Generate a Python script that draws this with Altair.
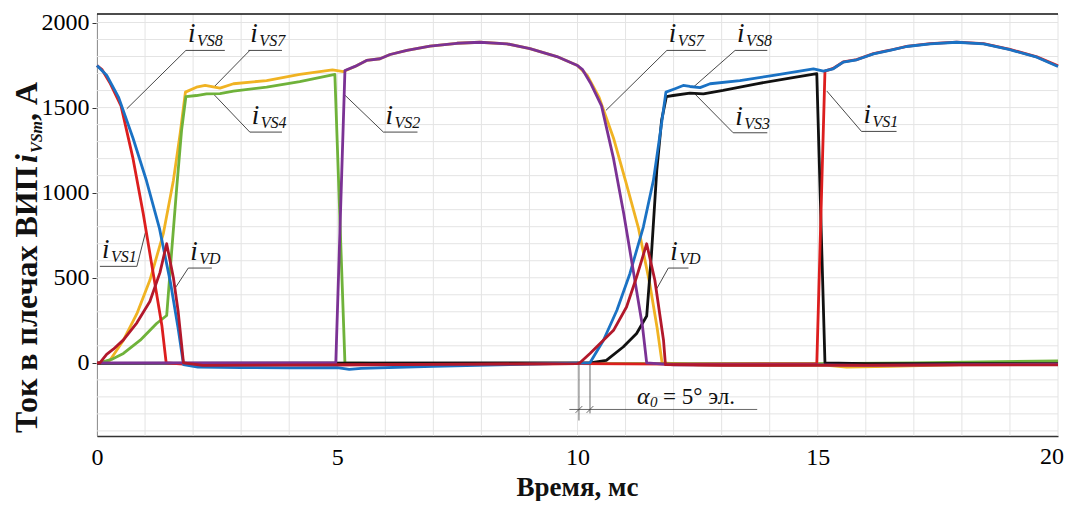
import altair as alt
import pandas as pd

# ---------------- data (time in ms, current in A) ----------------
vs7_t = [0.0, 0.06, 0.27, 0.55, 0.83, 1.10, 1.38, 1.59, 1.73, 1.84, 2.07, 2.25, 2.56, 2.84, 3.53, 4.22, 4.90, 5.13,
         5.37, 5.61, 5.89, 6.10, 6.45, 6.93, 7.49, 7.97, 8.53, 9.01, 9.57, 10.00, 10.20, 10.45, 10.75, 11.00, 11.27,
         11.50, 11.66, 11.76, 12.5, 14.0, 15.2, 15.6, 16.5, 18.0, 20.0]
vs7_i = [0, 0, 15, 133, 289, 485, 759, 1072, 1346, 1591, 1620, 1630, 1614, 1640, 1659, 1695, 1722, 1712,
         1742, 1777, 1787, 1812, 1836, 1861, 1878, 1884, 1875, 1846, 1800, 1747, 1690, 1560, 1320, 1070, 790,
         470, 200, 0, -12, -15, -15, -25, -20, -10, -5]

vs4_t = [0.0, 0.06, 0.3, 0.55, 0.9, 1.24, 1.45, 1.55, 1.66, 1.76, 1.85, 2.07, 2.28, 2.56, 2.84, 3.53, 4.22, 4.95,
         5.16, 6.0, 10.0, 15.0, 17.0, 20.0]
vs4_i = [0, 0, 20, 55, 133, 231, 278, 642, 1033, 1366, 1565, 1571, 1581, 1582, 1597, 1620, 1653, 1695,
         0, -5, -5, -5, 0, 12]

vs3_t = [0.0, 10.26, 10.6, 10.95, 11.23, 11.44, 11.54, 11.65, 11.75, 11.85, 11.99, 12.34, 12.62, 13.03, 13.73,
         14.42, 14.98, 15.15, 16.0, 20.0]
vs3_i = [-3, 0, 15, 93, 172, 275, 642, 1131, 1425, 1565, 1571, 1585, 1581, 1601, 1640,
         1673, 1699, 0, -5, -5]

vs1_t = [0.0, 0.1, 0.27, 0.5, 0.75, 0.96, 1.17, 1.35, 1.44, 1.8, 3.0, 5.0, 7.0, 10.0, 12.0, 14.98, 15.15, 15.32,
         15.53, 15.81, 16.16, 16.5, 16.85, 17.34, 17.89, 18.45, 19.0, 19.56, 20.0]
vs1_i = [1747, 1725, 1645, 1510, 1200, 880, 525, 220, 0, -8, -12, -12, -10, -5, -8, -5, 1714, 1730,
         1768, 1782, 1817, 1837, 1860, 1876, 1885, 1876, 1842, 1798, 1745]

vs8_t = [0.0, 0.2, 0.45, 0.75, 1.03, 1.3, 1.53, 1.69, 1.80, 2.1, 3.0, 4.0, 5.0, 5.25, 5.5, 7.0, 9.0, 10.0, 10.26,
         10.54, 10.82, 11.09, 11.37, 11.58, 11.72, 11.84, 12.03, 12.2, 12.34, 12.55, 12.76, 13.38, 14.08, 14.91,
         15.12, 15.32, 15.53, 15.81, 16.16, 16.5, 16.85, 17.34, 17.89, 18.45, 19.0, 19.56, 20.0]
vs8_i = [1747, 1690, 1560, 1320, 1070, 790, 470, 200, -10, -25, -28, -30, -28, -38, -32, -20, -8, -2, 0,
         133, 309, 524, 798, 1072, 1346, 1591, 1611, 1630, 1624, 1617, 1640, 1659, 1689, 1728,
         1714, 1728, 1767, 1781, 1816, 1836, 1859, 1875, 1884, 1875, 1840, 1796, 1742]

vs2_t = [0.0, 4.97, 5.16, 5.37, 5.61, 5.89, 6.10, 6.45, 6.93, 7.49, 7.97, 8.53, 9.01, 9.57, 10.0, 10.1, 10.27,
         10.5, 10.75, 10.96, 11.17, 11.35, 11.44, 12.0, 15.0, 16.0, 18.0, 20.0]
vs2_i = [0, 0, 1718, 1742, 1777, 1787, 1812, 1836, 1861, 1878, 1884, 1875, 1846, 1800, 1747, 1725, 1645,
         1510, 1200, 880, 525, 220, 0, -12, -12, -15, -10, -8]

vd_t = [0.0, 0.06, 0.2, 0.34, 0.55, 0.83, 1.10, 1.31, 1.45, 1.59, 1.69, 1.80, 2.2, 5.0, 10.0, 10.05, 10.26, 10.47,
        10.75, 11.02, 11.23, 11.44, 11.61, 11.79, 11.83, 13.0, 20.0]
vd_i = [0, 0, 50, 80, 135, 235, 360, 530, 700, 500, 300, 0, -15, -12, -5, 0, 55, 113,
        191, 328, 504, 700, 485, 133, -10, -15, -12]

# drawing order (bottom -> top)
series_names = ["VS7", "VS4", "VS3", "VS1", "VS8", "VS2", "VD"]
series_t = [vs7_t, vs4_t, vs3_t, vs1_t, vs8_t, vs2_t, vd_t]
series_i = [vs7_i, vs4_i, vs3_i, vs1_i, vs8_i, vs2_i, vd_i]
series_colors = ["#f0b323", "#6fb23a", "#111111", "#dc1e1e", "#1a72c4", "#7b3294", "#b2182b"]

# annotation labels: underline from (lab_t0, lab_i) to (lab_t1, lab_i); leader from (lead_t0, lead_i0) to (lead_t1, lead_i1)
lab_sub = ["VS8", "VS7", "VS4", "VS2", "VS7", "VS8", "VS3", "VS1", "VS1", "VD", "VD"]
lab_t0 = [1.85, 3.15, 3.18, 5.96, 11.86, 13.28, 13.24, 15.91, 0.06, 1.90, 11.89]
lab_t1 = [2.66, 3.85, 3.85, 6.67, 12.67, 13.95, 13.95, 16.64, 0.83, 2.39, 12.31]
lab_i = [1836, 1836, 1356, 1356, 1836, 1836, 1352, 1360, 567, 557, 557]
lead_t0 = [1.85, 3.18, 3.18, 5.96, 11.86, 13.28, 13.24, 15.91, 0.83, 1.90, 11.89]
lead_i0 = [1836, 1836, 1356, 1356, 1836, 1836, 1352, 1360, 567, 557, 557]
lead_t1 = [0.62, 2.42, 2.42, 5.13, 10.59, 12.41, 12.44, 15.19, 1.02, 1.62, 11.65]
lead_i1 = [1493, 1617, 1581, 1581, 1483, 1620, 1581, 1597, 779, 436, 436]

# alpha0 dimension
dim_t = [10.03, 10.26]
dim_i_bottom = [-339, -297]
dim_line_t = [9.83, 13.74]
dim_line_i = -274
alpha_t, alpha_i = 11.24, -243

x_ticks = [0, 5, 10, 15]
x_last_tick = 20
y_ticks = [0, 500, 1000, 1500, 2000]
grid_t = list(range(0, 21))
grid_i = list(range(-400, 2001, 100))

W, H = 961, 422
FONT = "Liberation Serif, Times New Roman, serif"
xs = alt.Scale(domain=[0, 20], nice=False, zero=False)
ys = alt.Scale(domain=[-430, 2050], nice=False, zero=False)
X_AX = alt.Axis(values=x_ticks, title=None, grid=False, tickSize=0, format="d",
                labelFont=FONT, labelFontSize=24, labelColor="#000",
                labelPadding=9, domainColor="#333", domainWidth=1.5, labelFlush=False)
Y_AX = alt.Axis(values=y_ticks, title=None, grid=False, format="d",
                tickSize=5, tickColor="#333", labelFont=FONT, labelFontSize=24,
                labelColor="#000", labelPadding=3, domainColor="#444",
                domainWidth=1, labelFlush=False)


def X(f):
    return alt.X(f, scale=xs, axis=X_AX)


def Y(f):
    return alt.Y(f, scale=ys, axis=Y_AX)


layers = []

# grid
layers.append(alt.Chart(pd.DataFrame({"t": grid_t})).mark_rule(color="#e4e4e4", strokeWidth=1).encode(
    x=X("t:Q")))
layers.append(alt.Chart(pd.DataFrame({"i": grid_i})).mark_rule(color="#e4e4e4", strokeWidth=1).encode(
    y=Y("i:Q")))

# leader lines and underlines
lab_df = pd.DataFrame({"sub": lab_sub, "t0": lab_t0, "t1": lab_t1, "li": lab_i,
                       "lt0": lead_t0, "li0": lead_i0, "lt1": lead_t1, "li1": lead_i1})
layers.append(alt.Chart(lab_df).mark_rule(color="#333", strokeWidth=0.9).encode(
    x=X("lt0:Q"), x2="lt1:Q", y=Y("li0:Q"), y2="li1:Q"))
layers.append(alt.Chart(lab_df).mark_rule(color="#333", strokeWidth=0.9).encode(
    x=X("t0:Q"), x2="t1:Q", y=Y("li:Q")))

# dimension lines
dim_df = pd.DataFrame({"t": dim_t, "ib": dim_i_bottom, "it": [0, 0]})
layers.append(alt.Chart(dim_df).mark_rule(color="#444", strokeWidth=0.8).encode(
    x=X("t:Q"), y=Y("it:Q"), y2="ib:Q"))
dl_df = pd.DataFrame({"t0": [dim_line_t[0]], "t1": [dim_line_t[1]], "i": [dim_line_i]})
layers.append(alt.Chart(dl_df).mark_rule(color="#444", strokeWidth=0.8).encode(
    x=X("t0:Q"), x2="t1:Q", y=Y("i:Q")))
sl_df = pd.DataFrame({"t0": [t - 0.07 for t in dim_t], "t1": [t + 0.07 for t in dim_t],
                      "i0": [dim_line_i - 20] * 2, "i1": [dim_line_i + 20] * 2})
layers.append(alt.Chart(sl_df).mark_rule(color="#444", strokeWidth=0.8).encode(
    x=X("t0:Q"), x2="t1:Q", y=Y("i0:Q"), y2="i1:Q"))

# curves
for name, ts, cs, col in zip(series_names, series_t, series_i, series_colors):
    df = pd.DataFrame({"t": ts, "i": cs})
    layers.append(alt.Chart(df).mark_line(color=col, strokeWidth=2.8, strokeJoin="round").encode(
        x=X("t:Q"), y=Y("i:Q")))

# label texts
layers.append(alt.Chart(lab_df).mark_text(text="i", font=FONT, fontSize=27, fontStyle="italic", align="left",
                                          baseline="alphabetic", dx=2, dy=-8, color="#111").encode(
    x=X("t0:Q"), y=Y("li:Q")))
layers.append(alt.Chart(lab_df).mark_text(font=FONT, fontSize=16, fontStyle="italic", align="left",
                                          baseline="alphabetic", dx=11, dy=-4, color="#111").encode(
    x=X("t0:Q"), y=Y("li:Q"), text="sub:N"))

# alpha0 text
al_df = pd.DataFrame({"t": [alpha_t], "i": [alpha_i]})
layers.append(alt.Chart(al_df).mark_text(text="α", font=FONT, fontSize=24, fontStyle="italic", align="left",
                                         baseline="alphabetic", color="#111").encode(
    x=X("t:Q"), y=Y("i:Q")))
layers.append(alt.Chart(al_df).mark_text(text="0", font=FONT, fontSize=15, fontStyle="italic", align="left",
                                         baseline="alphabetic", dx=13, dy=3, color="#111").encode(
    x=X("t:Q"), y=Y("i:Q")))
layers.append(alt.Chart(al_df).mark_text(text="= 5° эл.", font=FONT, fontSize=23, align="left",
                                         baseline="alphabetic", dx=26, color="#111").encode(
    x=X("t:Q"), y=Y("i:Q")))

# last x tick label, nudged inward so it stays inside the canvas
last_df = pd.DataFrame({"t": [x_last_tick], "lab": [str(x_last_tick)]})
layers.append(alt.Chart(last_df).mark_text(font=FONT, fontSize=24, align="center", baseline="top",
                                           dx=-6, color="#000").encode(
    x=X("t:Q"), y=alt.value(H + 9), text="lab:N"))

# frame top line
one = pd.DataFrame({"a": [0]})
layers.append(alt.Chart(one).mark_rule(color="#111", strokeWidth=1.5).encode(
    x=alt.value(0), x2=alt.value(W), y=alt.value(0)))

# titles
layers.append(alt.Chart(one).mark_text(text="Время, мс", font=FONT, fontSize=27, fontWeight="bold",
                                       align="center", baseline="alphabetic", color="#111").encode(
    x=alt.value(W / 2), y=alt.value(482)))
ytitle_base = -60
layers.append(alt.Chart(one).mark_text(text="Ток в плечах ВИП", font=FONT, fontSize=32, fontWeight="bold",
                                       angle=270, align="left", baseline="alphabetic", color="#111").encode(
    x=alt.value(ytitle_base), y=alt.value(419)))
layers.append(alt.Chart(one).mark_text(text="i", font=FONT, fontSize=32, fontWeight="bold", fontStyle="italic",
                                       angle=270, align="left", baseline="alphabetic", color="#111").encode(
    x=alt.value(ytitle_base), y=alt.value(149)))
layers.append(alt.Chart(one).mark_text(text="VSm", font=FONT, fontSize=16, fontWeight="bold", fontStyle="italic",
                                       angle=270, align="left", baseline="alphabetic", color="#111").encode(
    x=alt.value(ytitle_base + 5), y=alt.value(139)))
layers.append(alt.Chart(one).mark_text(text=", А", font=FONT, fontSize=32, fontWeight="bold",
                                       angle=270, align="left", baseline="alphabetic", color="#111").encode(
    x=alt.value(ytitle_base), y=alt.value(107)))

chart = alt.layer(*layers).properties(
    width=W, height=H,
    autosize=alt.AutoSizeParams(type="none"),
    padding={"left": 89, "top": 6, "right": 7, "bottom": 65},
).configure_view(stroke=None)

chart.save("out.html", embed_options={"renderer": "svg", "actions": False})
